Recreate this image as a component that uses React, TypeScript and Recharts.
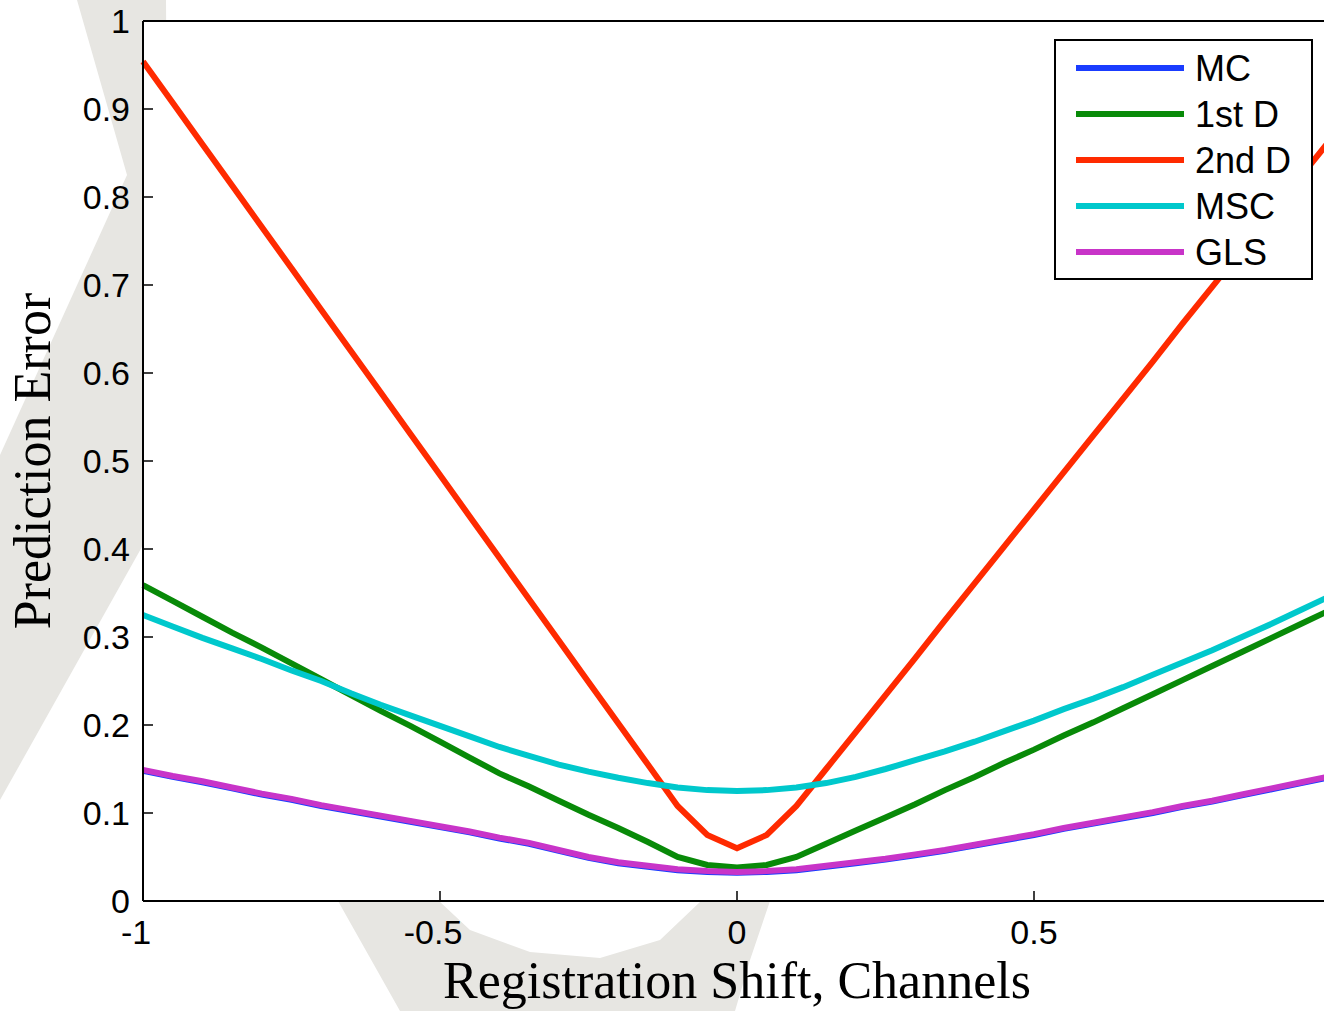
import { CartesianGrid, Label, Legend, Line, LineChart, XAxis, YAxis } from "recharts";

// registration shift (channels)
const shifts = [
  -1, -0.95, -0.9, -0.85, -0.8, -0.75, -0.7, -0.65, -0.6, -0.55, -0.5, -0.45, -0.4, -0.35,
  -0.3, -0.25, -0.2, -0.15, -0.1, -0.05, 0, 0.05, 0.1, 0.15, 0.2, 0.25, 0.3, 0.35, 0.4,
  0.45, 0.5, 0.55, 0.6, 0.65, 0.7, 0.75, 0.8, 0.85, 0.9, 0.95, 1,
];

const mc = [
  0.148, 0.141, 0.135, 0.128, 0.121, 0.115, 0.108, 0.102, 0.096, 0.09, 0.084, 0.078, 0.071,
  0.065, 0.057, 0.049, 0.043, 0.039, 0.035, 0.033, 0.032, 0.033, 0.035, 0.039, 0.043, 0.047,
  0.052, 0.057, 0.063, 0.069, 0.075, 0.082, 0.088, 0.094, 0.1, 0.107, 0.113, 0.12, 0.127,
  0.134, 0.141,
];

const firstD = [
  0.359, 0.341, 0.323, 0.305, 0.288, 0.27, 0.252, 0.234, 0.216, 0.199, 0.181, 0.163, 0.145,
  0.13, 0.114, 0.098, 0.083, 0.067, 0.05, 0.041, 0.038, 0.041, 0.05, 0.065, 0.08, 0.095, 0.11,
  0.126, 0.141, 0.157, 0.172, 0.188, 0.203, 0.219, 0.235, 0.251, 0.267, 0.283, 0.299, 0.315,
  0.331,
];

const secondD = [
  0.954, 0.907, 0.86, 0.813, 0.766, 0.719, 0.672, 0.625, 0.578, 0.531, 0.484, 0.437, 0.39,
  0.343, 0.296, 0.249, 0.202, 0.155, 0.108, 0.075, 0.06, 0.075, 0.108, 0.15, 0.192, 0.234,
  0.276, 0.319, 0.361, 0.403, 0.445, 0.487, 0.529, 0.571, 0.613, 0.656, 0.698, 0.74, 0.782,
  0.824, 0.866,
];

const msc = [
  0.325, 0.312, 0.299, 0.287, 0.275, 0.262, 0.25, 0.236, 0.223, 0.211, 0.199, 0.187, 0.175,
  0.165, 0.155, 0.147, 0.14, 0.134, 0.129, 0.126, 0.125, 0.126, 0.129, 0.134, 0.141, 0.15,
  0.16, 0.17, 0.181, 0.193, 0.205, 0.218, 0.23, 0.243, 0.257, 0.271, 0.285, 0.3, 0.315, 0.331,
  0.347,
];

const gls = [
  0.149, 0.142, 0.136, 0.129, 0.122, 0.116, 0.109, 0.103, 0.097, 0.091, 0.085, 0.079, 0.072,
  0.066, 0.058, 0.05, 0.044, 0.04, 0.036, 0.034, 0.033, 0.034, 0.036, 0.04, 0.044, 0.048,
  0.053, 0.058, 0.064, 0.07, 0.076, 0.083, 0.089, 0.095, 0.101, 0.108, 0.114, 0.121, 0.128,
  0.135, 0.142,
];

const yTicks = [0, 0.1, 0.2, 0.3, 0.4, 0.5, 0.6, 0.7, 0.8, 0.9, 1];
const xTicks = [-1, -0.5, 0, 0.5];
const boxTicks = [-1, -0.5, 0, 0.5, 1];

const series = [
  { key: "mc", name: "MC", color: "#1a3cff" },
  { key: "firstD", name: "1st D", color: "#088a08" },
  { key: "secondD", name: "2nd D", color: "#ff2a00" },
  { key: "msc", name: "MSC", color: "#00c8cc" },
  { key: "gls", name: "GLS", color: "#c834c8" },
];

const data = shifts.map((x, i) => ({
  x,
  mc: mc[i],
  firstD: firstD[i],
  secondD: secondD[i],
  msc: msc[i],
  gls: gls[i],
}));

const sans = "'Liberation Sans', Arial, Helvetica, sans-serif";
const serif = "'Liberation Serif', 'Times New Roman', serif";
const tickFont = { fontFamily: sans, fontSize: 34, fill: "#000" };
const axisLine = { stroke: "#000", strokeWidth: 2 };
const tickLine = { stroke: "#000", strokeWidth: 1.5 };

// matlab sets negative labels a bit to the left
const XTick = (props: any) => {
  const { x, y, payload } = props;
  const v = payload.value as number;
  return (
    <text
      x={x + (v < 0 ? -7 : 0)}
      y={y}
      dy="0.71em"
      textAnchor="middle"
      fontFamily={sans}
      fontSize={34}
      fill="#000"
    >
      {String(v)}
    </text>
  );
};

const LegendBox = () => (
  <div
    style={{
      width: 259,
      height: 241,
      border: "2px solid #000",
      boxSizing: "border-box",
      background: "#fff",
    }}
  >
    <svg width={255} height={237}>
      {series.map((s, i) => (
        <g key={s.key}>
          <line x1={20} x2={128} y1={27 + i * 46} y2={27 + i * 46} stroke={s.color} strokeWidth={6} />
          <text
            x={139}
            y={27 + i * 46}
            dy="0.36em"
            fontSize={36}
            fontFamily={sans}
            fill="#000"
          >
            {s.name}
          </text>
        </g>
      ))}
    </svg>
  </div>
);

export default function App() {
  return (
    <div
      style={{
        position: "fixed",
        left: 0,
        top: 0,
        width: 1324,
        height: 1011,
        overflow: "hidden",
        background: "#fff",
      }}
    >
      {/* faint logo watermark behind the axes */}
      <svg width={1324} height={1011} style={{ position: "absolute", left: 0, top: 0 }}>
        <polygon
          points="77,0 166,0 170,560 143,545 0,800 0,455 127,175"
          fill="#e7e6e2"
        />
        <polygon
          points="338,901 439,901 470,930 530,952 600,958 660,940 701,901 770,901 750,960 735,1011 400,1011"
          fill="#e7e6e2"
        />
      </svg>
      <div style={{ position: "absolute", left: 0, top: 0 }}>
        <LineChart width={1400} height={1011} data={data} margin={{ top: 0, right: 59, bottom: 0, left: 0 }}>
          <CartesianGrid horizontal={false} vertical={false} fill="#fff" />
          <XAxis
            dataKey="x"
            type="number"
            domain={[-1, 1]}
            ticks={xTicks}
            height={110}
            tick={<XTick />}
            tickSize={-10}
            tickMargin={29}
            axisLine={axisLine}
            tickLine={tickLine}
            interval={0}
          >
            <Label
              content={() => (
                <text x={737} y={998} textAnchor="middle" fontSize={52} fontFamily={serif} fill="#000">
                  Registration Shift, Channels
                </text>
              )}
            />
          </XAxis>
          <XAxis
            xAxisId="top"
            orientation="top"
            type="number"
            domain={[-1, 1]}
            ticks={boxTicks}
            height={21}
            tick={false}
            tickSize={-10}
            axisLine={axisLine}
            tickLine={tickLine}
          />
          <YAxis
            type="number"
            domain={[0, 1]}
            ticks={yTicks}
            width={143}
            tick={tickFont}
            tickSize={-10}
            tickMargin={23}
            tickFormatter={(v: number) => String(v)}
            axisLine={axisLine}
            tickLine={tickLine}
            interval={0}
          >
            <Label
              content={() => (
                <text
                  x={50}
                  y={461}
                  transform="rotate(-90 50 461)"
                  textAnchor="middle"
                  fontSize={52}
                  fontFamily={serif}
                  fill="#000"
                >
                  Prediction Error
                </text>
              )}
            />
          </YAxis>
          <YAxis
            yAxisId="right"
            orientation="right"
            type="number"
            domain={[0, 1]}
            ticks={yTicks}
            width={10}
            tick={false}
            tickSize={-10}
            axisLine={axisLine}
            tickLine={tickLine}
          />
          {series.map((s) => (
            <Line
              key={s.key}
              type="linear"
              dataKey={s.key}
              name={s.name}
              stroke={s.color}
              strokeWidth={6}
              dot={false}
              activeDot={false}
              isAnimationActive={false}
            />
          ))}
          <Legend
            layout="horizontal"
            verticalAlign="middle"
            align="center"
            content={() => <LegendBox />}
            wrapperStyle={{ left: 1054, top: 39, width: 259, height: 241 }}
          />
        </LineChart>
      </div>
    </div>
  );
}
